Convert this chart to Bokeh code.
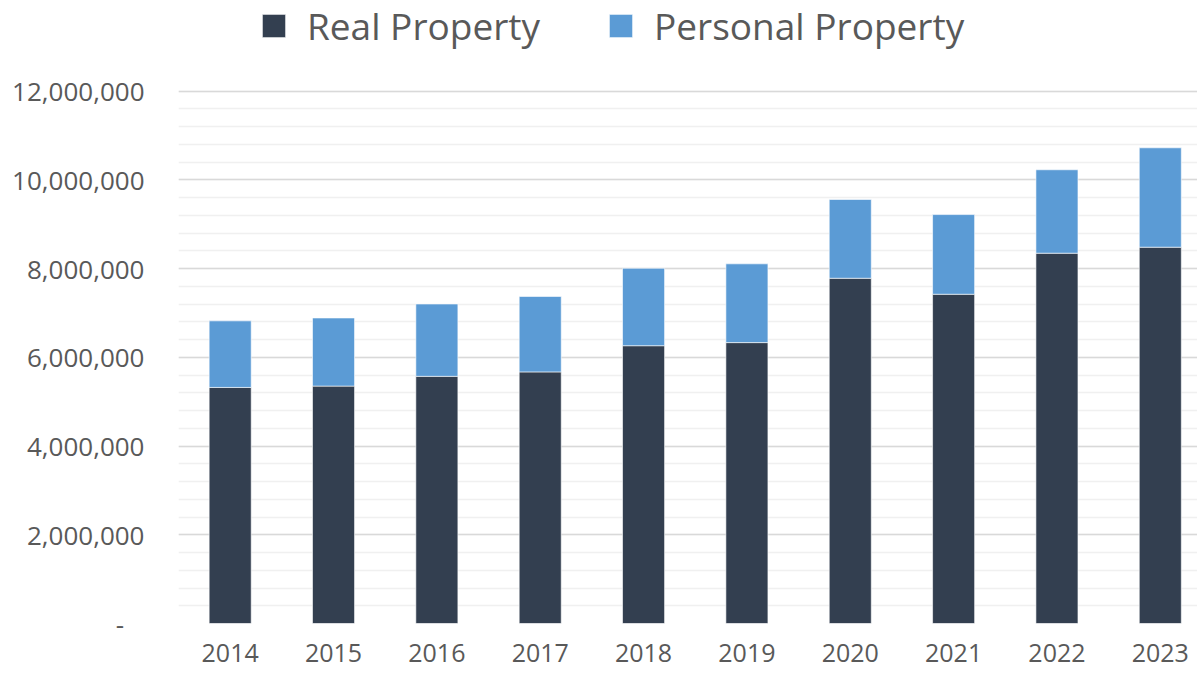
from bokeh.plotting import figure
from bokeh.models import ColumnDataSource, FixedTicker, NumeralTickFormatter, Range1d
from bokeh.embed import file_html
from bokeh.resources import INLINE

years = ["2014", "2015", "2016", "2017", "2018", "2019", "2020", "2021", "2022", "2023"]
real_property = [5320000, 5350000, 5570000, 5670000, 6260000, 6330000, 7780000, 7420000, 8345000, 8480000]
personal_property = [1500000, 1535000, 1630000, 1700000, 1745000, 1775000, 1775000, 1795000, 1880000, 2240000]
y_ticks = [0, 2000000, 4000000, 6000000, 8000000, 10000000, 12000000]
y_minor = list(range(0, 12000001, 400000))

xs = list(range(len(years)))
src = ColumnDataSource(dict(x=xs, real=real_property, personal=personal_property))

FONT = "Open Sans"
TXT = "#595959"

p = figure(width=1197, height=675, output_backend="svg", toolbar_location=None,
           x_range=Range1d(-0.5, 9.36), y_range=Range1d(0, 12000000 * 623 / 532.5),
           min_border_left=178, min_border_right=0, min_border_top=0, min_border_bottom=52)
p.outline_line_color = None
p.background_fill_color = "white"
p.border_fill_color = "white"

p.vbar_stack(["real", "personal"], x="x", width=0.407, source=src,
             color=["#333F50", "#5B9BD5"], line_color="white", line_width=0.6,
             legend_label=["Real Property", "Personal Property"])

# grids
p.xgrid.visible = False
p.ygrid.ticker = FixedTicker(ticks=y_ticks, minor_ticks=y_minor)
p.ygrid.grid_line_color = "#D9D9D9"
p.ygrid.grid_line_width = 1.5
p.ygrid.minor_grid_line_color = "#F0F0F0"
p.ygrid.minor_grid_line_width = 1.5

# y axis
ya = p.yaxis[0]
ya.ticker = FixedTicker(ticks=y_ticks)
ya.formatter = NumeralTickFormatter(format="0,0")
ya.major_label_overrides = {0: "-\u00a0\u00a0\u00a0"}
ya.axis_line_color = None
ya.major_tick_line_color = None
ya.minor_tick_line_color = None
ya.major_tick_out = 0
ya.major_label_standoff = 34
ya.major_label_text_font = FONT
ya.major_label_text_font_size = "26px"
ya.major_label_text_color = TXT

# x axis
xa = p.xaxis[0]
xa.ticker = FixedTicker(ticks=xs)
xa.major_label_overrides = {i: y for i, y in zip(xs, years)}
xa.axis_line_color = None
xa.major_tick_line_color = None
xa.minor_tick_line_color = None
xa.major_tick_out = 0
xa.major_label_standoff = 20
xa.major_label_text_font = FONT
xa.major_label_text_font_size = "25px"
xa.major_label_text_color = TXT

# legend
lg = p.legend[0]
lg.orientation = "horizontal"
lg.location = (81, 572)
lg.padding = 0
lg.margin = 0
lg.border_line_color = None
lg.background_fill_alpha = 0
lg.glyph_width = 29
lg.glyph_height = 29
lg.label_standoff = 19
lg.spacing = 66
lg.label_text_font = FONT
lg.label_text_font_size = "37px"
lg.label_text_color = TXT
lg.click_policy = "none"

open("out.html", "w").write(file_html(p, INLINE))
